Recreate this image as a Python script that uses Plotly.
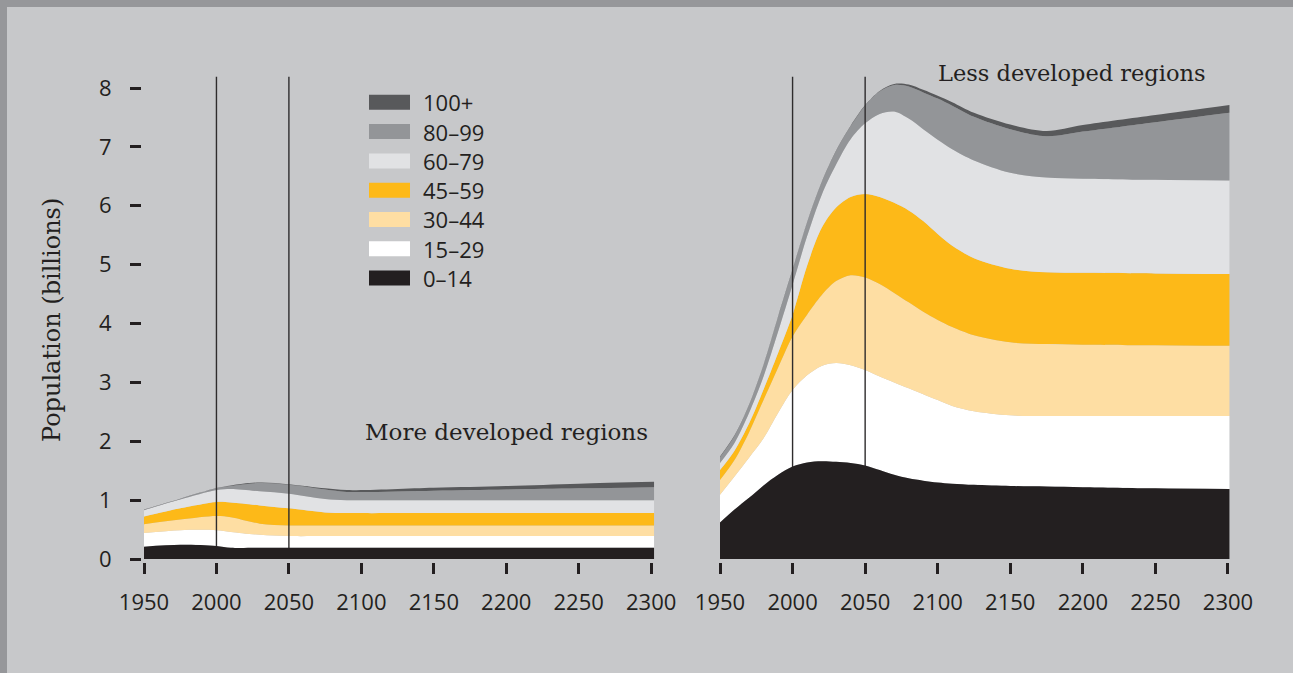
import numpy as np
import plotly.graph_objects as go

W, H = 1293, 673

# ---------------- data ----------------
age_labels = ["0–14", "15–29", "30–44", "45–59", "60–79", "80–99", "100+"]
age_colors = ["#231f20", "#ffffff", "#fedea3", "#fdb918", "#e1e2e4", "#939598", "#58595b"]

# More developed regions (billions, per age group)
years_more = [1950, 1975, 2000, 2010, 2030, 2050, 2075, 2090, 2150, 2200, 2250, 2302]
more_0_14 = [0.21, 0.24, 0.22, 0.19, 0.19, 0.19, 0.19, 0.19, 0.19, 0.19, 0.19, 0.19]
more_15_29 = [0.23, 0.25, 0.27, 0.27, 0.22, 0.20, 0.20, 0.20, 0.20, 0.20, 0.20, 0.20]
more_30_44 = [0.15, 0.18, 0.24, 0.25, 0.19, 0.18, 0.18, 0.18, 0.18, 0.18, 0.18, 0.18]
more_45_59 = [0.13, 0.19, 0.24, 0.25, 0.31, 0.29, 0.22, 0.21, 0.21, 0.21, 0.21, 0.21]
more_60_79 = [0.11, 0.15, 0.20, 0.23, 0.24, 0.25, 0.23, 0.22, 0.22, 0.22, 0.22, 0.22]
more_80_99 = [0.005, 0.01, 0.03, 0.05, 0.14, 0.15, 0.16, 0.14, 0.16, 0.18, 0.20, 0.22]
more_100p = [0.005, 0.005, 0.005, 0.01, 0.01, 0.01, 0.02, 0.03, 0.05, 0.06, 0.08, 0.09]

# Less developed regions (billions, per age group)
years_less = [1950, 1960, 1970, 1980, 1990, 2000, 2010, 2020, 2030, 2040, 2050, 2060,
              2070, 2080, 2090, 2100, 2110, 2125, 2150, 2175, 2200, 2250, 2301]
less_0_14 = [0.62, 0.84, 1.04, 1.25, 1.43, 1.57, 1.64, 1.66, 1.65, 1.63, 1.59, 1.51,
             1.43, 1.37, 1.33, 1.30, 1.28, 1.26, 1.24, 1.23, 1.22, 1.20, 1.19]
less_15_29 = [0.47, 0.56, 0.68, 0.80, 1.05, 1.30, 1.48, 1.62, 1.68, 1.66, 1.62, 1.59,
              1.57, 1.53, 1.47, 1.40, 1.32, 1.25, 1.20, 1.20, 1.21, 1.23, 1.24]
less_30_44 = [0.25, 0.28, 0.43, 0.65, 0.77, 0.91, 1.03, 1.20, 1.39, 1.53, 1.57, 1.57,
              1.52, 1.46, 1.40, 1.36, 1.34, 1.29, 1.24, 1.22, 1.21, 1.20, 1.19]
less_45_59 = [0.17, 0.16, 0.15, 0.18, 0.25, 0.37, 0.83, 1.14, 1.25, 1.33, 1.42, 1.48,
              1.53, 1.56, 1.54, 1.46, 1.38, 1.31, 1.25, 1.22, 1.22, 1.22, 1.22]
less_60_79 = [0.12, 0.13, 0.18, 0.22, 0.36, 0.51, 0.50, 0.56, 0.73, 0.98, 1.20, 1.41,
              1.55, 1.56, 1.56, 1.60, 1.64, 1.66, 1.63, 1.61, 1.60, 1.59, 1.59]
less_80_99 = [0.10, 0.12, 0.13, 0.19, 0.25, 0.25, 0.23, 0.21, 0.23, 0.22, 0.30, 0.38,
              0.45, 0.545, 0.625, 0.70, 0.74, 0.74, 0.74, 0.70, 0.80, 0.98, 1.15]
less_100p = [0.01, 0.01, 0.01, 0.01, 0.01, 0.01, 0.01, 0.01, 0.01, 0.01, 0.01, 0.01,
             0.02, 0.035, 0.045, 0.05, 0.06, 0.07, 0.08, 0.09, 0.11, 0.12, 0.13]

x_ticks = [1950, 2000, 2050, 2100, 2150, 2200, 2250, 2300]
y_ticks = [0, 1, 2, 3, 4, 5, 6, 7, 8]
marker_years = [2000, 2050]
marker_top = 8.19

panel_titles = ["More developed regions", "Less developed regions"]
y_title = "Population (billions)"

# ---------------- styles ----------------
INK = "#231f20"
BG = "#c7c8ca"
FRAME = "#96979a"
SANS = "Open Sans, sans-serif"
SERIF = "DejaVu Serif, serif"

SX_L = 1.449     # px per year, left panel
SX_R = 1.4514    # px per year, right panel
SY = 58.875      # px per billion
Y0PX = 559       # pixel row of y = 0


def px(x):
    return x / W


def py(y):
    return 1 - y / H


fig = go.Figure()
SPL = dict(width=0, shape="spline", smoothing=0.9)


def add_panel(years, groups, xa, ya):
    tops = np.cumsum(np.array(groups, dtype=float), axis=0)
    fig.add_trace(go.Scatter(x=years, y=tops[0], mode="lines", line=SPL,
                             xaxis=xa, yaxis=ya, hoverinfo="skip", showlegend=False))
    for i in range(1, len(groups)):
        fig.add_trace(go.Scatter(x=years, y=tops[i], mode="lines", fill="tonexty",
                                 fillcolor=age_colors[i], line=SPL,
                                 xaxis=xa, yaxis=ya, hoverinfo="skip", showlegend=False))
    for yr in marker_years:
        fig.add_trace(go.Scatter(x=[yr, yr], y=[0, marker_top], mode="lines",
                                 line=dict(color="#2e2c2d", width=1.4),
                                 xaxis=xa, yaxis=ya, hoverinfo="skip", showlegend=False))
    fig.add_trace(go.Scatter(x=years, y=tops[0], mode="lines", fill="tozeroy",
                             fillcolor=age_colors[0], line=SPL,
                             xaxis=xa, yaxis=ya, hoverinfo="skip", showlegend=False))


add_panel(years_more, [more_0_14, more_15_29, more_30_44, more_45_59, more_60_79, more_80_99, more_100p], "x", "y")
add_panel(years_less, [less_0_14, less_15_29, less_30_44, less_45_59, less_60_79, less_80_99, less_100p], "x2", "y2")

# axes
left_px = (142, 656)
right_px = (716, 1232)
ytop_px, ybot_px = 70, 562
yrange = [-(ybot_px - Y0PX) / SY, (Y0PX - ytop_px) / SY]
ydomain = [py(ybot_px), py(ytop_px)]

xcommon = dict(showgrid=False, zeroline=False, showline=False, ticks="outside", ticklen=11,
               tickwidth=2.5, tickcolor=INK, tickvals=x_ticks, automargin=False,
               tickfont=dict(family=SANS, size=22, color=INK), ticklabelstandoff=10,
               fixedrange=True)

fig.update_layout(
    xaxis=dict(domain=[px(left_px[0]), px(left_px[1])],
               range=[1950 - (144 - left_px[0]) / SX_L, 1950 + (left_px[1] - 144) / SX_L],
               anchor="y", **xcommon),
    xaxis2=dict(domain=[px(right_px[0]), px(right_px[1])],
                range=[1950 - (720 - right_px[0]) / SX_R, 1950 + (right_px[1] - 720) / SX_R],
                anchor="y2", **xcommon),
    yaxis=dict(domain=ydomain, range=yrange, anchor="x", showgrid=False, zeroline=False,
               showline=False, ticks="outside", ticklen=11, tickwidth=3, tickcolor=INK,
               tickvals=y_ticks, tickfont=dict(family=SANS, size=22, color=INK),
               ticklabelstandoff=14, automargin=False, fixedrange=True),
    yaxis2=dict(domain=ydomain, range=yrange, anchor="x2", showgrid=False, zeroline=False,
                showline=False, showticklabels=False, ticks="", automargin=False,
                fixedrange=True),
)

shapes = [
    dict(type="rect", xref="paper", yref="paper", x0=0, x1=1, y0=py(7), y1=1,
         fillcolor=FRAME, line=dict(width=0), layer="below"),
    dict(type="rect", xref="paper", yref="paper", x0=0, x1=px(7), y0=0, y1=1,
         fillcolor=FRAME, line=dict(width=0), layer="below"),
]

annotations = [
    dict(text=panel_titles[0], xref="paper", yref="paper", x=px(650), y=py(432),
         xanchor="right", yanchor="middle", showarrow=False,
         font=dict(family=SERIF, size=23, color=INK)),
    dict(text=panel_titles[1], xref="paper", yref="paper", x=px(1208), y=py(73),
         xanchor="right", yanchor="middle", showarrow=False,
         font=dict(family=SERIF, size=22.5, color=INK)),
    dict(text=y_title, xref="paper", yref="paper", x=px(52), y=py(320), textangle=-90,
         xanchor="center", yanchor="middle", showarrow=False,
         font=dict(family=SERIF, size=24, color=INK)),
]

# legend (top entry = oldest group)
row0, row_step = 102.3, 29.3
for k, i in enumerate(reversed(range(len(age_labels)))):
    yc = row0 + k * row_step
    shapes.append(dict(type="rect", xref="paper", yref="paper", x0=px(369), x1=px(410),
                       y0=py(yc + 7.5), y1=py(yc - 7.5), fillcolor=age_colors[i],
                       line=dict(width=0)))
    annotations.append(dict(text=age_labels[i], xref="paper", yref="paper", x=px(421), y=py(yc),
                            xanchor="left", yanchor="middle", showarrow=False,
                            font=dict(family=SANS, size=22, color=INK)))

fig.update_layout(
    width=W, height=H, autosize=False,
    margin=dict(l=0, r=0, t=0, b=0, pad=0, autoexpand=False),
    paper_bgcolor=BG, plot_bgcolor=BG,
    showlegend=False,
    shapes=shapes, annotations=annotations,
    hovermode=False,
)

fig.write_html("out.html", config={"displayModeBar": False},
               post_script="document.body.style.margin='0';document.body.style.overflow='hidden';")
